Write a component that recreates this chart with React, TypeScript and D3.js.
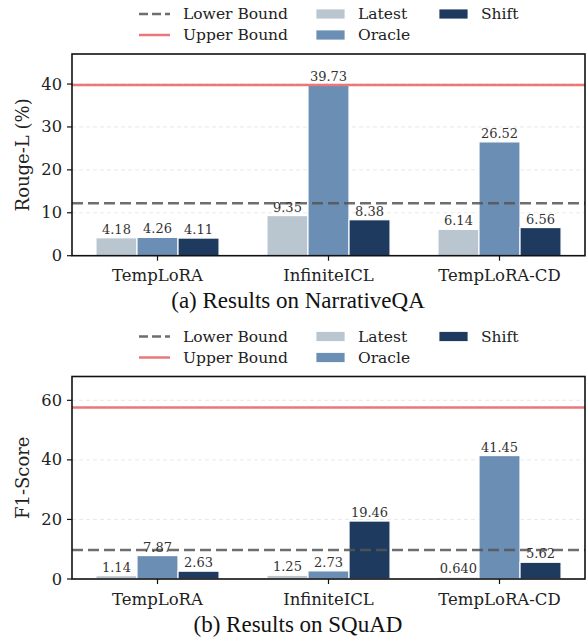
import { useRef, useEffect } from 'react';
import * as d3 from 'd3';

const categories = ['TempLoRA', 'InfiniteICL', 'TempLoRA-CD'];
const seriesNames = ['Latest', 'Oracle', 'Shift'];
const seriesColors = ['#b9c6d0', '#6b8eb4', '#1f3a5f'];

// NarrativeQA (Rouge-L %)
const nqaLatest = [4.18, 9.35, 6.14];
const nqaOracle = [4.26, 39.73, 26.52];
const nqaShift = [4.11, 8.38, 6.56];
const nqaLower = 12.24;
const nqaUpper = 39.8;
const nqaTicks = [0, 10, 20, 30, 40];

// SQuAD (F1)
const squadLatest = [1.14, 1.25, 0.64];
const squadOracle = [7.87, 2.73, 41.45];
const squadShift = [2.63, 19.46, 5.62];
const squadLower = 9.75;
const squadUpper = 57.6;
const squadTicks = [0, 20, 40, 60];

const fmt = (v: number) => (v < 1 ? v.toFixed(3) : v.toFixed(2));

export default function App() {
  const svgRef = useRef<SVGSVGElement>(null);
  const W = 587, H = 637;
  const serif = "'DejaVu Serif', 'Liberation Serif', serif";

  useEffect(() => {
    const svg = d3.select(svgRef.current);
    svg.selectAll('*').remove();

    function drawPanel(top: number, bottom: number, ymax: number, series: number[][],
                       lower: number, upper: number, ticks: number[], ylabel: string, title: string) {
      const left = 72, right = 585;
      const x = d3.scaleLinear().domain([-0.5, 2.5]).range([left, right]);
      const y = d3.scaleLinear().domain([0, ymax]).range([bottom, top]);
      const g = svg.append('g');
      const bw = 0.24;

      // grid
      g.selectAll('line.grid').data(ticks).join('line')
        .attr('x1', left).attr('x2', right)
        .attr('y1', d => y(d)).attr('y2', d => y(d))
        .attr('stroke', '#e3e3e3').attr('stroke-width', 0.8).attr('stroke-dasharray', '4,3');

      // bars
      series.forEach((vals, si) => {
        const off = (si - 1) * bw;
        g.selectAll('rect.s' + si).data(vals).join('rect')
          .attr('x', (d, i) => x(i + off - bw / 2))
          .attr('width', x(bw) - x(0))
          .attr('y', d => y(d))
          .attr('height', d => y(0) - y(d))
          .attr('fill', seriesColors[si])
          .attr('stroke', '#ffffff').attr('stroke-width', 1.2);
      });

      // bound lines
      g.append('line').attr('x1', left).attr('x2', right)
        .attr('y1', y(upper)).attr('y2', y(upper))
        .attr('stroke', '#e8787a').attr('stroke-width', 2.5);
      g.append('line').attr('x1', left).attr('x2', right)
        .attr('y1', y(lower)).attr('y2', y(lower))
        .attr('stroke', '#555').attr('stroke-opacity', 0.85)
        .attr('stroke-width', 2.5).attr('stroke-dasharray', '11,5');

      // value labels
      series.forEach((vals, si) => {
        const off = (si - 1) * bw;
        g.selectAll('text.v' + si).data(vals).join('text')
          .attr('x', (d, i) => x(i + off))
          .attr('y', d => y(d) - 4)
          .attr('text-anchor', 'middle')
          .attr('font-family', serif).attr('font-size', 13)
          .attr('fill', '#333')
          .text(d => fmt(d));
      });

      // frame
      g.append('rect').attr('x', left).attr('y', top)
        .attr('width', right - left).attr('height', bottom - top)
        .attr('fill', 'none').attr('stroke', '#111').attr('stroke-width', 1.6);

      // y ticks
      ticks.forEach(t => {
        g.append('line').attr('x1', left - 5).attr('x2', left)
          .attr('y1', y(t)).attr('y2', y(t)).attr('stroke', '#111').attr('stroke-width', 1.2);
        g.append('text').attr('x', left - 10).attr('y', y(t))
          .attr('text-anchor', 'end').attr('dominant-baseline', 'central')
          .attr('font-family', serif).attr('font-size', 16.3).attr('fill', '#222')
          .text(t);
      });

      // x ticks
      categories.forEach((c, i) => {
        g.append('line').attr('x1', x(i)).attr('x2', x(i))
          .attr('y1', bottom).attr('y2', bottom + 5).attr('stroke', '#111').attr('stroke-width', 1.2);
        g.append('text').attr('x', x(i)).attr('y', bottom + 20)
          .attr('text-anchor', 'middle').attr('dominant-baseline', 'central')
          .attr('font-family', serif).attr('font-size', 16.5).attr('fill', '#222')
          .text(c);
      });

      // y label
      g.append('text')
        .attr('transform', `translate(22,${(top + bottom) / 2}) rotate(-90)`)
        .attr('text-anchor', 'middle').attr('dominant-baseline', 'central')
        .attr('font-family', serif).attr('font-size', 18).attr('fill', '#222')
        .text(ylabel);

      // title
      g.append('text').attr('x', 298).attr('y', bottom + 45)
        .attr('text-anchor', 'middle').attr('dominant-baseline', 'central')
        .attr('font-family', "'Liberation Serif', 'Times New Roman', serif")
        .attr('font-size', 23).attr('fill', '#111')
        .text(title);

      // legend
      const ly1 = top - 40, ly2 = top - 19;
      const lg = g.append('g').attr('font-family', serif).attr('font-size', 15.5).attr('fill', '#222');
      lg.append('line').attr('x1', 139).attr('x2', 170).attr('y1', ly1).attr('y2', ly1)
        .attr('stroke', '#555').attr('stroke-opacity', 0.85).attr('stroke-width', 2.5)
        .attr('stroke-dasharray', '9,4');
      lg.append('text').attr('x', 183).attr('y', ly1).attr('dominant-baseline', 'central').text('Lower Bound');
      lg.append('line').attr('x1', 139).attr('x2', 170).attr('y1', ly2).attr('y2', ly2)
        .attr('stroke', '#e8787a').attr('stroke-width', 2.5);
      lg.append('text').attr('x', 183).attr('y', ly2).attr('dominant-baseline', 'central').text('Upper Bound');
      const patches = [[316, ly1], [316, ly2], [439, ly1]];
      seriesNames.forEach((s, si) => {
        const [px, py] = patches[si];
        lg.append('rect').attr('x', px).attr('y', py - 5).attr('width', 29).attr('height', 10)
          .attr('fill', seriesColors[si]).attr('stroke', '#fff').attr('stroke-width', 0.8);
        lg.append('text').attr('x', px + 42).attr('y', py).attr('dominant-baseline', 'central').text(s);
      });
    }

    drawPanel(54, 255.7, 47.0, [nqaLatest, nqaOracle, nqaShift], nqaLower, nqaUpper, nqaTicks,
      'Rouge-L (%)', '(a) Results on NarrativeQA');
    drawPanel(376.5, 579, 68.0, [squadLatest, squadOracle, squadShift], squadLower, squadUpper, squadTicks,
      'F1-Score', '(b) Results on SQuAD');
  }, []);

  return (
    <div style={{ position: 'absolute', left: 0, top: 0 }}>
      <svg ref={svgRef} width={W} height={H} style={{ display: 'block', background: '#fff' }} />
    </div>
  );
}
